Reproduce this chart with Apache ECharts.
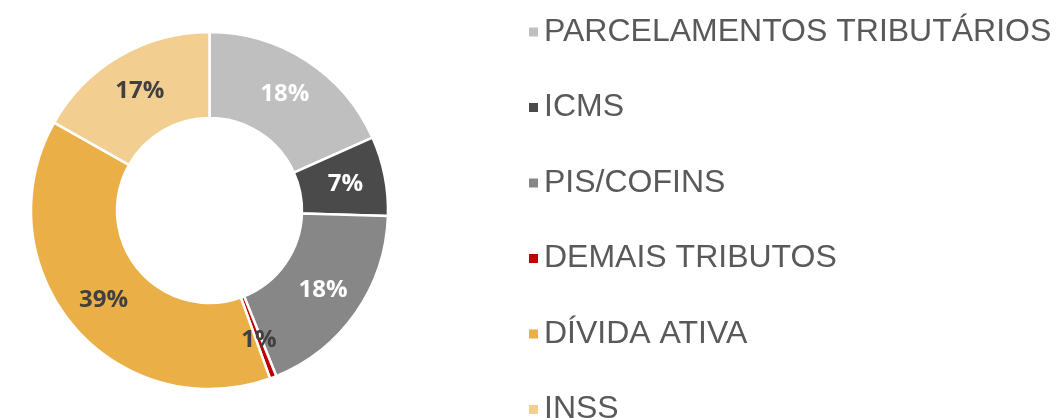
<!DOCTYPE html>
<html>
<head>
<meta charset="utf-8">
<script src="https://cdn.jsdelivr.net/npm/echarts@6/dist/echarts.min.js"></script>
<style>
  html, body { margin: 0; padding: 0; background: #fff; }
  #main { width: 1057px; height: 418px; }
</style>
</head>
<body>
<div id="main"></div>
<script>
const categories = ['PARCELAMENTOS TRIBUTÁRIOS', 'ICMS', 'PIS/COFINS', 'DEMAIS TRIBUTOS', 'DÍVIDA ATIVA', 'INSS'];
const shares = [18.3, 7.2, 18.4, 0.6, 38.7, 16.8];
const colors = ['#bfbfbf', '#4a4a4a', '#878787', '#c00000', '#eaaf47', '#f2ce91'];
const labelColors = ['#ffffff', '#ffffff', '#ffffff', '#404040', '#404040', '#404040'];

const chart = echarts.init(document.getElementById('main'));

const option = {
  animation: false,
  backgroundColor: '#fff',
  color: colors,
  legend: {
    orient: 'vertical',
    left: 522,
    top: 11,
    height: 600,
    itemWidth: 11,
    itemHeight: 11,
    itemGap: 43.5,
    icon: 'rect',
    selectedMode: false,
    textStyle: {
      fontFamily: 'Liberation Sans',
      fontSize: 32,
      lineHeight: 32,
      color: '#595959'
    },
    data: categories
  },
  series: [{
    type: 'pie',
    center: [209.5, 210.5],
    radius: [92.5, 178.5],
    startAngle: 90,
    clockwise: true,
    percentPrecision: 0,
    avoidLabelOverlap: false,
    emphasis: { disabled: true },
    itemStyle: {
      borderColor: '#fff',
      borderWidth: 2.5
    },
    label: {
      show: true,
      position: 'inside',
      formatter: '{d}%',
      fontFamily: 'Open Sans',
      fontWeight: 'bold',
      fontSize: 24
    },
    labelLine: { show: false },
    data: categories.map((name, i) => ({
      name: name,
      value: shares[i],
      label: { color: labelColors[i] }
    }))
  }]
};

chart.setOption(option);
</script>
</body>
</html>
